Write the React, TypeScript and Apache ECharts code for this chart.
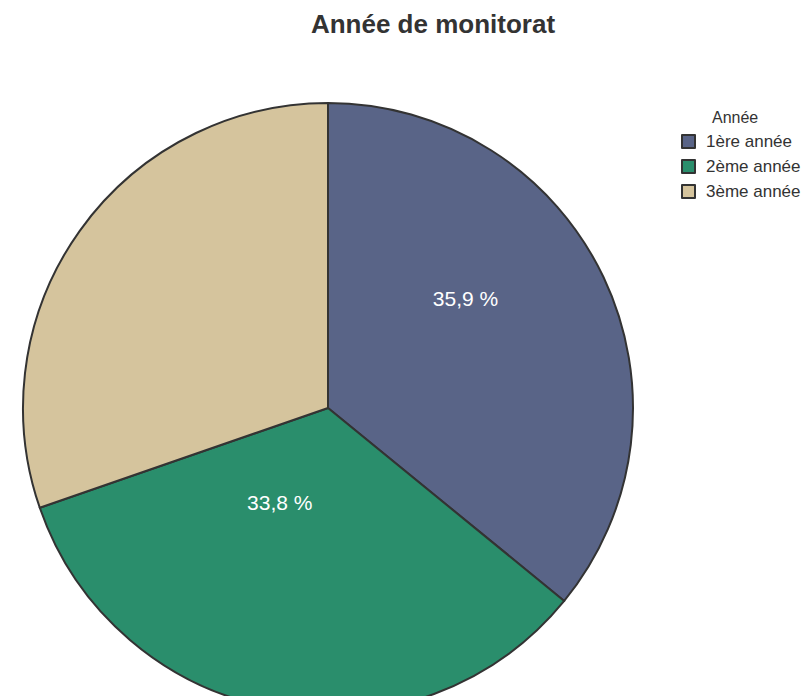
import React, { useEffect, useRef } from "react";
import * as echarts from "echarts";

const categories = ["1ère année", "2ème année", "3ème année"];
const values = [35.9, 33.8, 30.3];
const showLabel = [true, true, false];
const colors = ["#596487", "#2a8e6c", "#d5c49d"];
const chartTitle = "Année de monitorat";
const legendTitle = "Année";

export default function App() {
  const ref = useRef<HTMLDivElement>(null);
  useEffect(() => {
    document.body.style.margin = "0";
    const chart = echarts.init(ref.current!, null, { renderer: "svg" });
    const labelShift = [
      [-3, -43],
      [-21, -59],
      [0, 0],
    ];
    chart.setOption({
      animation: false,
      textStyle: { fontFamily: "Liberation Sans, Arial, sans-serif" },
      title: [
        {
          text: chartTitle,
          left: 428,
          top: 6,
          textAlign: "center",
          textStyle: { fontSize: 26, fontWeight: "bold", color: "#333" },
        },
        {
          text: legendTitle,
          left: 707,
          top: 104,
          textStyle: { fontSize: 16, fontWeight: "normal", color: "#333" },
        },
      ],
      legend: {
        orient: "vertical",
        left: 676,
        top: 128,
        itemWidth: 13,
        itemHeight: 13,
        itemGap: 8,
        icon: "rect",
        textStyle: { fontSize: 17, color: "#333", padding: [0, 0, 0, 6] },
        itemStyle: { borderColor: "#333", borderWidth: 2 },
        data: categories,
      },
      series: [
        {
          type: "pie",
          center: [328, 408],
          radius: 305,
          startAngle: 90,
          clockwise: true,
          itemStyle: { borderColor: "#333", borderWidth: 2 },
          emphasis: { disabled: true },
          labelLine: { show: false },
          labelLayout: (p: any) => ({
            dx: labelShift[p.dataIndex][0],
            dy: labelShift[p.dataIndex][1],
          }),
          data: categories.map((c, i) => ({
            name: c,
            value: values[i],
            itemStyle: { color: colors[i] },
            label: {
              show: showLabel[i],
              position: "inside",
              color: "#fff",
              fontSize: 21,
              formatter: (p: any) => p.value.toFixed(1).replace(".", ",") + " %",
            },
          })),
        },
      ],
    });
    return () => chart.dispose();
  }, []);
  return <div ref={ref} style={{ width: 810, height: 696 }} />;
}
